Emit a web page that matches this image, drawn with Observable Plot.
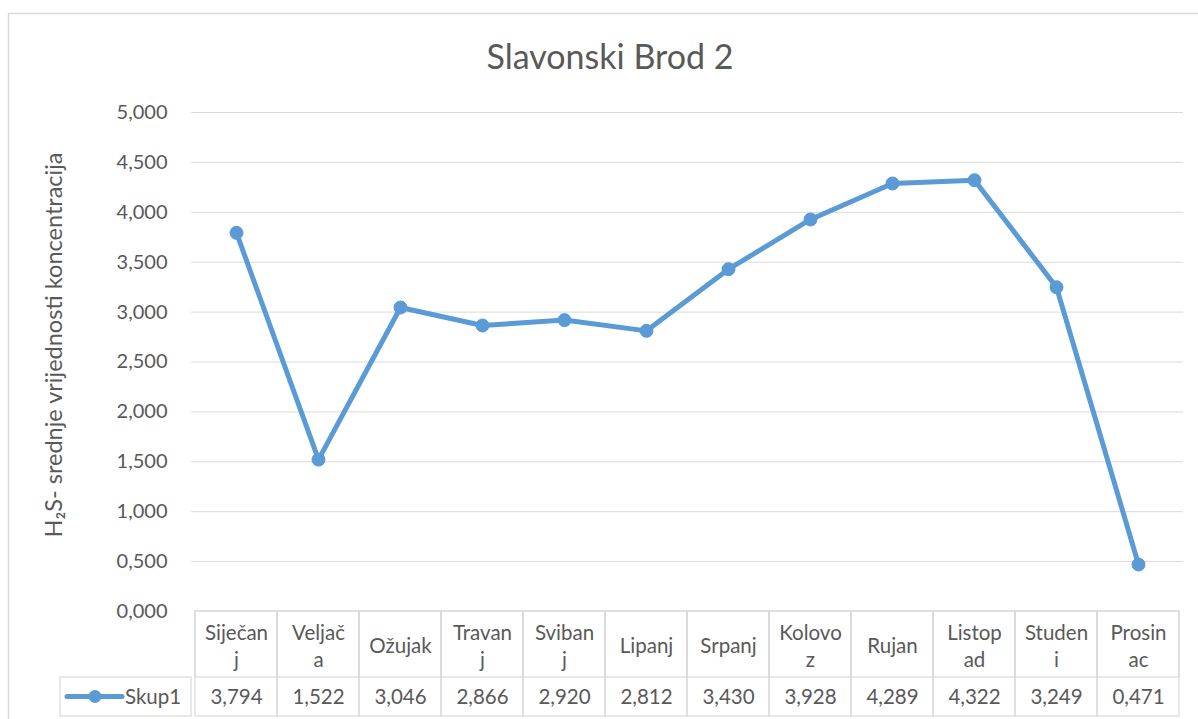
<!DOCTYPE html>
<html>
<head>
<meta charset="utf-8">
<script src="https://cdn.jsdelivr.net/npm/d3@7"></script>
<script src="https://cdn.jsdelivr.net/npm/@observablehq/plot@0.6"></script>
<style>
  html, body { margin: 0; padding: 0; background: #fff; }
  svg { display: block; }
</style>
</head>
<body>
<div id="chart"></div>
<script>
// ---- data ----
const title = "Slavonski Brod 2";
const yLabel = "H₂S- srednje vrijednosti koncentracija";
const seriesName = "Skup1";
const months = ["Siječanj","Veljača","Ožujak","Travanj","Svibanj","Lipanj","Srpanj","Kolovoz","Rujan","Listopad","Studeni","Prosinac"];
const headerLabels = ["Siječan\nj","Veljač\na","Ožujak","Travan\nj","Sviban\nj","Lipanj","Srpanj","Kolovo\nz","Rujan","Listop\nad","Studen\ni","Prosin\nac"];
const values = [3.794, 1.522, 3.046, 2.866, 2.920, 2.812, 3.430, 3.928, 4.289, 4.322, 3.249, 0.471];
const yTicks = [0, 0.5, 1, 1.5, 2, 2.5, 3, 3.5, 4, 4.5, 5];

// ---- build ----
const fmt = d => d.toFixed(3).replace(".", ",");
const data = months.map((m, i) => ({month: m, label: headerLabels[i], value: values[i]}));
const blue = "#5b9bd5";
const grid = "#d9d9d9";
const textColor = "#595959";
const font = "Lato, 'Open Sans', sans-serif";

const plot = Plot.plot({
  width: 1198,
  height: 719,
  marginLeft: 191,
  marginRight: 15,
  marginTop: 112,
  marginBottom: 108,
  style: {fontFamily: font, fontSize: "20px", color: textColor, background: "#fff", overflow: "visible"},
  x: {type: "band", domain: months, padding: 0, axis: null},
  y: {domain: [0, 5], ticks: 10, tickFormat: fmt, tickSize: 0, tickPadding: 24, label: null},
  marks: [
    Plot.ruleY(yTicks.filter(t => t > 0), {stroke: grid, strokeWidth: 1}),
    // table grid
    Plot.barY(data, {x: "month", y1: 0, y2: 0, insetBottom: -105, fill: "none", stroke: grid, strokeWidth: 1.2}),
    Plot.barY(data, {x: "month", y1: 0, y2: 0, insetBottom: -66, fill: "none", stroke: grid, strokeWidth: 1.2}),
    // table texts
    Plot.text(data, {x: "month", text: "label", frameAnchor: "bottom", lineAnchor: "middle", dy: 33, lineHeight: 1.32, fill: textColor, fontSize: 20.5}),
    Plot.text(data, {x: "month", text: d => fmt(d.value), frameAnchor: "bottom", lineAnchor: "middle", dy: 86, fill: textColor, fontSize: 20.5}),
    // series
    Plot.line(data, {x: "month", y: "value", stroke: blue, strokeWidth: 5, strokeLinejoin: "round"}),
    Plot.dot(data, {x: "month", y: "value", r: 6.5, fill: blue, stroke: blue, strokeWidth: 1})
  ]
});

const svg = d3.select(plot);
// outer chart border
svg.insert("rect", ":first-child")
  .attr("x", 8.5).attr("y", 13.5).attr("width", 1300).attr("height", 800)
  .attr("fill", "none").attr("stroke", grid).attr("stroke-width", 1.5);
// title
svg.append("text")
  .attr("x", 610).attr("y", 57).attr("dy", "0.35em")
  .attr("text-anchor", "middle").attr("fill", textColor)
  .style("font-family", font).style("font-size", "34px")
  .text(title);
// y label
svg.append("text")
  .attr("transform", "translate(54,345) rotate(-90)")
  .attr("dy", "0.35em")
  .attr("text-anchor", "middle").attr("fill", textColor)
  .style("font-family", font).style("font-size", "23.5px")
  .text(yLabel);
// legend cell
const lg = svg.append("g");
lg.append("rect").attr("x", 60).attr("y", 677).attr("width", 131).attr("height", 39)
  .attr("fill", "none").attr("stroke", grid).attr("stroke-width", 1.2);
lg.append("line").attr("x1", 67).attr("x2", 122).attr("y1", 696.5).attr("y2", 696.5)
  .attr("stroke", blue).attr("stroke-width", 5).attr("stroke-linecap", "round");
lg.append("circle").attr("cx", 95).attr("cy", 696.5).attr("r", 6.5).attr("fill", blue);
lg.append("text").attr("x", 125).attr("y", 696.5).attr("dy", "0.35em")
  .attr("text-anchor", "start")
  .attr("fill", textColor).style("font-family", font).style("font-size", "20.5px")
  .text(seriesName);

document.getElementById("chart").appendChild(plot);
</script>
</body>
</html>
